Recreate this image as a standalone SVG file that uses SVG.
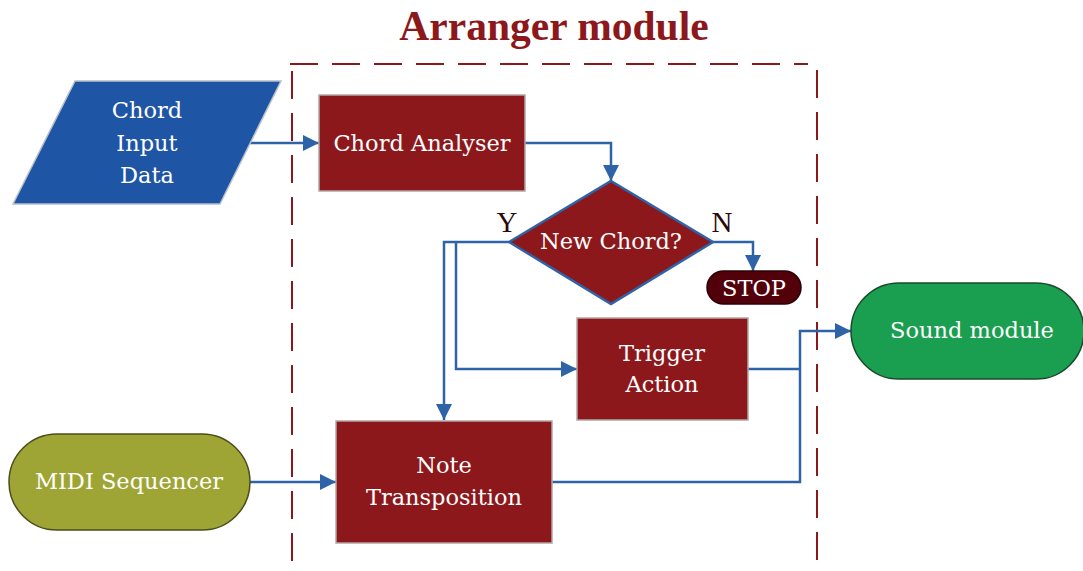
<svg xmlns="http://www.w3.org/2000/svg" width="1083" height="571" viewBox="0 0 1083 571">
<defs>
<marker id="arr" viewBox="0 0 10 10" refX="10" refY="5" markerWidth="6.6" markerHeight="6.4" markerUnits="strokeWidth" orient="auto">
<path d="M0,0 L10,5 L0,10 z" fill="#2E63A8"/>
</marker>
<style>
.t{font-family:"DejaVu Serif","Liberation Serif",serif;fill:#fff;text-anchor:middle;font-size:22.5px}
.box{fill:#8C181C;stroke:#b5a5a5;stroke-width:1.5}
.c{fill:none;stroke:#2E63A8;stroke-width:2.5}
.frame{fill:none;stroke:#8C181C;stroke-width:2;stroke-dasharray:28,14}
.lbl{font-family:"Liberation Serif","DejaVu Serif",serif;fill:#2a0a0a;font-size:29px;text-anchor:middle}
</style>
</defs>
<rect width="1083" height="571" fill="#fff"/>
<text x="554" y="40" font-family="Liberation Serif, DejaVu Serif, serif" font-weight="bold" font-size="41.5" fill="#8C181C" text-anchor="middle">Arranger module</text>
<g id="frame">
<line class="frame" x1="290" y1="64" x2="808" y2="64"/>
<line class="frame" x1="292" y1="71" x2="292" y2="571"/>
<line class="frame" x1="817" y1="70" x2="817" y2="571"/>
</g>
<g id="connectors">
<path class="c" d="M250,143 H319" marker-end="url(#arr)"/>
<path class="c" d="M525,143 H611 V181" marker-end="url(#arr)"/>
<path class="c" d="M713,242 H753 V271" marker-end="url(#arr)"/>
<path class="c" d="M509,242 H444 V420" marker-end="url(#arr)"/>
<path class="c" d="M456,242 V369 H577" marker-end="url(#arr)"/>
<path class="c" d="M250,482 H336" marker-end="url(#arr)"/>
<path class="c" d="M748,369 H800"/>
<path class="c" d="M552,482 H800 V331 H851" marker-end="url(#arr)"/>
</g>
<g id="chord-input">
<polygon points="75,81 281,81 220,204 13,204" fill="#1F55A5" stroke="#b8c0cc" stroke-width="1.5"/>
<text class="t" x="147" y="118">Chord</text>
<text class="t" x="147" y="151">Input</text>
<text class="t" x="147" y="183">Data</text>
</g>
<g id="chord-analyser">
<rect class="box" x="319" y="95" width="206" height="96"/>
<text class="t" x="422" y="151">Chord Analyser</text>
</g>
<g id="new-chord">
<polygon points="611,181 713,242 611,304 509,242" fill="#8C181C" stroke="#2E63A8" stroke-width="2.5"/>
<text class="t" x="611" y="249">New Chord?</text>
<text class="lbl" x="507" y="232">Y</text>
<text class="lbl" x="722" y="232">N</text>
</g>
<g id="stop">
<rect x="707" y="271" width="94" height="33" rx="16.5" fill="#52000A" stroke="#2a0005" stroke-width="1.5"/>
<text class="t" x="754" y="295.5">STOP</text>
</g>
<g id="trigger-action">
<rect class="box" x="577" y="318" width="171" height="102"/>
<text class="t" x="662" y="361">Trigger</text>
<text class="t" x="662" y="392">Action</text>
</g>
<g id="note-transposition">
<rect class="box" x="336" y="421" width="216" height="122"/>
<text class="t" x="444" y="473">Note</text>
<text class="t" x="444" y="505">Transposition</text>
</g>
<g id="midi-sequencer">
<rect x="9" y="434" width="241" height="96" rx="48" fill="#9EA535" stroke="#4b4d1a" stroke-width="1.5"/>
<text class="t" x="129" y="489">MIDI Sequencer</text>
</g>
<g id="sound-module">
<rect x="851" y="283" width="233" height="96" rx="48" fill="#1A9E50" stroke="#1b4a2b" stroke-width="1.5"/>
<text class="t" x="972" y="338">Sound module</text>
</g>
</svg>
